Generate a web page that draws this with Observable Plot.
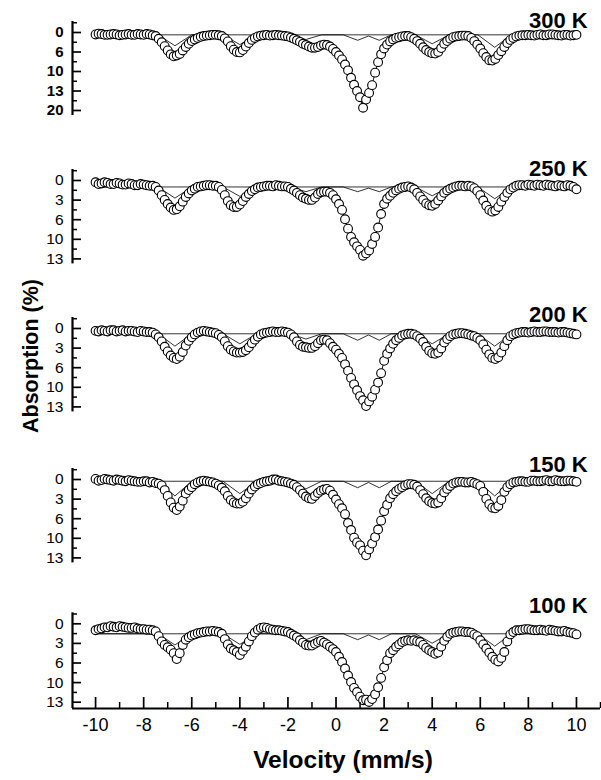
<!DOCTYPE html>
<html><head><meta charset="utf-8">
<script src="https://cdn.jsdelivr.net/npm/d3@7"></script>
<script src="https://cdn.jsdelivr.net/npm/@observablehq/plot@0.6"></script>
<style>
body{margin:0;background:#fff;}
#wrap{position:relative;width:601px;height:780px;overflow:hidden;font-family:"Liberation Sans",Arial,Helvetica,sans-serif;background:#fff;}
#wrap svg{position:absolute;left:0;top:0;}
</style></head><body><div id="wrap"></div>
<script>
// ---- data: channel velocities (mm/s) ----
const velocity = [-10,-9.75,-9.5,-9.25,-9,-8.75,-8.5,-8.25,-8,-7.75,-7.5,-7.25,-7,-6.75,-6.5,-6.25,-6,-5.75,-5.5,-5.25,-5,-4.75,-4.5,-4.25,-4,-3.75,-3.5,-3.25,-3,-2.75,-2.5,-2.25,-2,-1.75,-1.5,-1.25,-1,-0.75,-0.5,-0.25,0,0.25,0.5,0.75,1,1.25,1.5,1.75,2,2.25,2.5,2.75,3,3.25,3.5,3.75,4,4.25,4.5,4.75,5,5.25,5.5,5.75,6,6.25,6.5,6.75,7,7.25,7.5,7.75,8,8.25,8.5,8.75,9,9.25,9.5,9.75,10];
const velocityMid = [-9.875,-9.625,-9.375,-9.125,-8.875,-8.625,-8.375,-8.125,-7.875,-7.625,-7.375,-7.125,-6.875,-6.625,-6.375,-6.125,-5.875,-5.625,-5.375,-5.125,-4.875,-4.625,-4.375,-4.125,-3.875,-3.625,-3.375,-3.125,-2.875,-2.625,-2.375,-2.125,-1.875,-1.625,-1.375,-1.125,-0.875,-0.625,-0.375,-0.125,0.125,0.375,0.625,0.875,1.125,1.375,1.625,1.875,2.125,2.375,2.625,2.875,3.125,3.375,3.625,3.875,4.125,4.375,4.625,4.875,5.125,5.375,5.625,5.875,6.125,6.375,6.625,6.875,7.125,7.375,7.625,7.875,8.125,8.375,8.625,8.875,9.125,9.375,9.625,9.875];

// absorption (%)
const abs300 = [0.5,0.4,0.6,0.4,0.7,0.5,0.6,0.4,0.6,0.5, 0.9,2.5,4.6,6.1,5.5,3.7,2.2,1.4,0.9,0.7, 0.6,0.9,2.3,4.4,5.1,3.6,1.9,1.0,0.7,0.8, 0.6,0.8,1.0,1.6,2.4,3.2,3.9,3.7,3.1,3.6, 5.0,6.9,9.7,13.4,16.6,17.2,13.5,7.6,4.1,2.3, 1.4,1.0,0.9,1.6,2.9,4.5,5.3,5.0,2.9,1.6, 1.0,0.8,0.9,2.2,4.1,6.3,7.2,5.8,3.7,1.9, 1.0,0.7,0.6,0.8,0.5,0.7,0.5,0.7,0.6,0.8, 0.6];
const abs300Mid = [0.3,0.6,0.5,0.5,0.6,0.4,0.6,0.5,0.4,0.7, 1.6,3.5,5.6,5.9,4.6,2.9,1.8,1.1,0.8,0.6, 0.7,1.5,3.5,5.0,4.5,2.7,1.4,0.8,0.6,0.7, 0.7,0.9,1.3,2.0,2.9,3.6,3.9,3.3,3.2,4.2, 5.9,8.2,11.6,15.0,19.3,15.5,10.3,5.6,3.1,1.8, 1.2,0.9,1.2,2.2,3.8,5.0,5.4,4.0,2.2,1.2, 0.9,0.8,1.4,3.1,5.3,7.1,6.8,4.8,2.7,1.4, 0.8,0.7,0.7,0.6,0.7,0.5,0.6,0.8,0.6,0.7];
const abs250 = [0.3,0.5,0.4,0.6,0.5,0.7,0.6,0.8,0.7,0.9, 1.1,2.5,4.0,5.0,4.4,2.8,1.7,1.1,0.9,0.8, 0.9,1.6,3.5,4.5,4.1,2.8,1.8,1.2,1.0,0.9, 0.8,1.0,1.1,1.7,2.5,3.1,3.3,2.3,1.9,2.1, 3.2,5.0,8.2,10.5,11.8,12.4,10.8,8.0,4.0,2.6, 1.7,1.2,1.0,1.5,2.7,3.9,4.3,3.4,2.1,1.4, 1.0,0.9,0.9,1.3,2.5,4.3,5.3,4.5,2.8,1.5, 0.9,0.8,0.7,0.9,0.8,0.7,0.9,0.8,1.0,0.9, 1.5];
const abs250Mid = [0.6,0.3,0.6,0.4,0.7,0.5,0.8,0.6,0.8,0.9, 1.7,3.3,4.6,4.9,3.6,2.2,1.4,1.0,0.8,0.9, 1.1,2.5,4.2,4.5,3.5,2.3,1.5,1.1,0.9,1.0, 0.9,1.0,1.4,2.1,2.9,3.3,2.9,2.0,1.9,2.5, 4.0,6.6,9.6,11.2,12.8,11.9,9.6,5.7,3.1,2.1, 1.4,1.1,1.2,2.1,3.3,4.2,4.0,2.7,1.7,1.2, 0.9,1.0,1.0,1.8,3.4,5.0,5.1,3.6,2.1,1.2, 0.8,0.9,0.8,0.7,0.9,0.8,1.0,0.9,0.8,1.1];
const abs200 = [0.4,0.3,0.5,0.3,0.4,0.5,0.4,0.6,0.5,0.6, 1.0,2.2,3.9,5.0,4.8,2.9,1.5,0.7,0.4,0.6, 0.8,1.5,3.0,3.9,4.1,3.7,2.5,1.4,0.8,0.6, 0.6,0.5,0.7,1.5,2.8,3.2,3.3,2.5,1.9,2.5, 3.6,5.0,7.2,9.5,11.5,13.2,11.6,9.2,5.5,3.4, 2.0,1.2,0.9,1.0,1.7,3.1,4.2,4.1,2.4,1.3, 0.9,0.8,1.0,1.3,2.0,3.6,5.0,4.9,3.0,1.3, 0.8,0.6,0.7,0.5,0.6,0.5,0.6,0.7,0.6,0.8, 1.0];
const abs200Mid = [0.5,0.4,0.3,0.5,0.3,0.4,0.5,0.4,0.6,0.7, 1.5,3.1,4.6,5.2,4.0,2.1,1.0,0.5,0.5,0.7, 1.1,2.2,3.6,4.1,4.0,3.2,1.9,1.0,0.7,0.5, 0.6,0.6,1.0,2.2,3.1,3.3,3.0,2.0,2.0,3.1, 4.3,6.1,8.4,10.5,12.2,12.4,10.4,7.6,4.3,2.6, 1.6,1.0,0.9,1.3,2.3,3.8,4.3,3.4,1.8,1.0, 0.8,0.9,1.2,1.6,2.7,4.4,5.2,4.1,2.0,1.0, 0.7,0.6,0.6,0.6,0.5,0.6,0.6,0.6,0.7,0.9];
const abs150 = [-0.1,0.1,0.0,0.2,0.1,0.3,0.2,0.4,0.3,0.5, 0.6,1.0,2.8,4.8,4.6,2.4,1.3,0.5,0.2,0.4, 0.7,1.4,2.8,3.9,4.1,3.2,1.7,0.8,0.4,0.2, 0.0,0.3,0.5,0.9,1.8,2.9,3.3,2.3,1.7,1.9, 3.4,4.9,7.4,9.9,11.2,12.9,10.9,8.5,5.4,3.2, 2.0,1.3,0.8,0.9,1.8,3.2,4.0,3.9,2.2,1.1, 0.5,0.4,0.5,0.6,1.1,3.3,4.8,4.5,2.1,0.8, 0.4,0.3,0.4,0.2,0.3,0.1,0.3,0.2,0.3,0.2, 0.4];
const abs150Mid = [0.2,-0.1,0.1,0.0,0.2,0.1,0.3,0.4,0.3,0.4, 0.7,1.8,3.9,5.2,3.6,1.8,0.8,0.3,0.3,0.5, 1.0,2.0,3.5,4.1,3.8,2.4,1.2,0.6,0.3,0.0, 0.2,0.4,0.7,1.3,2.4,3.2,2.8,1.9,1.6,2.6, 4.2,5.9,8.6,10.7,12.1,11.9,9.8,7.0,4.3,2.5, 1.6,1.0,0.8,1.2,2.5,3.7,4.1,3.2,1.6,0.7, 0.4,0.5,0.4,0.8,2.1,4.2,4.9,3.5,1.3,0.5, 0.3,0.4,0.2,0.3,0.2,0.3,0.1,0.3,0.2,0.3];
const abs100 = [1.1,0.8,0.6,0.5,0.4,0.6,0.7,0.8,0.9,1.0, 1.3,3.0,4.0,5.0,5.0,2.7,2.0,1.6,1.4,1.3, 1.3,1.7,3.5,4.5,5.3,3.9,2.1,1.0,0.6,0.9, 1.1,1.2,1.4,2.0,2.8,3.6,3.7,3.1,3.2,3.9, 4.8,6.5,8.8,10.9,12.4,12.9,12.8,10.8,7.4,5.0, 3.9,3.1,2.8,2.8,3.1,4.1,4.8,4.9,2.9,1.7, 1.4,1.3,1.4,1.8,2.8,4.2,5.6,6.4,4.8,1.8, 1.1,1.0,0.9,1.1,1.0,1.2,1.1,1.3,1.2,1.5, 1.8];
const abs100Mid = [0.9,0.6,0.4,0.6,0.5,0.7,0.6,0.9,1.0,1.1, 2.1,3.6,4.4,6.0,3.6,2.3,1.8,1.5,1.3,1.2, 1.4,2.6,4.2,4.8,4.6,3.0,1.5,0.7,0.7,1.0, 1.1,1.3,1.7,2.3,3.2,3.7,3.4,2.9,3.5,4.3, 5.6,7.6,9.9,11.6,13.0,13.3,12.0,9.2,6.2,4.5, 3.5,2.9,2.9,3.0,3.6,4.5,5.1,3.9,2.2,1.5, 1.3,1.4,1.5,2.1,3.5,4.9,6.1,5.8,3.0,1.4, 1.1,0.9,1.0,1.1,1.1,1.0,1.2,1.3,1.4,1.6];

// fitted sub-spectra (magnetic sextet and central doublet)
const sextetV = [-10,-7.4,-6.7,-6.0,-4.7,-4.0,-3.3,-1.9,-1.25,-0.6,3.3,4.0,4.7,5.9,6.6,7.3,10];
const sextet300 = [0.6,0.6,3.4,0.6,0.6,3.1,0.6,0.6,1.8,0.6,0.6,2.9,0.6,0.6,3.8,0.6,0.6];
const sextet250 = [1.1,1.1,3.0,1.1,1.1,2.7,1.1,1.1,1.9,1.1,1.1,2.6,1.1,1.1,3.1,1.1,1.1];
const sextet200 = [0.9,0.9,3.0,0.9,0.9,2.6,0.9,0.9,1.8,0.9,0.9,2.6,0.9,0.9,3.0,0.9,0.9];
const sextet150 = [0.3,0.3,2.8,0.3,0.3,2.4,0.3,0.3,1.6,0.3,0.3,2.4,0.3,0.3,2.8,0.3,0.3];
const sextet100 = [1.7,1.7,3.6,1.7,1.7,3.5,1.7,1.7,2.7,1.7,1.7,3.3,1.7,1.7,3.8,1.7,1.7];
const doubletV = [-10,0.3,0.9,1.35,1.8,2.3,10];
const doublet300 = [0.6,0.6,2.0,0.9,2.0,0.6,0.6];
const doublet250 = [1.1,1.1,1.9,1.3,1.9,1.1,1.1];
const doublet200 = [0.9,0.9,2.0,1.1,2.0,0.9,0.9];
const doublet150 = [0.3,0.3,1.4,0.5,1.4,0.3,0.3];
const doublet100 = [1.7,1.7,2.7,1.9,2.7,1.7,1.7];

const panelTitles = ["300 K","250 K","200 K","150 K","100 K"];
const yTicks300 = [0,5,10,15,20];
const yLabels300 = ["0","6","10","13","20"];
const yTicks = [0,10/3,20/3,10,40/3];
const yLabels = ["0","3","6","10","13"];
const xMajorTicks = [-10,-8,-6,-4,-2,0,2,4,6,8,10];
const xMinorTicks = [-9,-7,-5,-3,-1,1,3,5,7,9,11];

// ---- layout ----
const W = 601, H = 780, ML = 72, MR = 1, MB = 72;
const FW = W - ML - MR;
const X0 = -10.96, X1 = 11;
const xAxisPx = 708;
const FONT = '"Liberation Sans", Arial, Helvetica, sans-serif';

const panels = [
  {title: panelTitles[0], data: abs300, mid: abs300Mid, sext: sextet300, dub: doublet300, ticks: yTicks300, labels: yLabels300, zero: 32, step: 19.5, base: 27, bold: true},
  {title: panelTitles[1], data: abs250, mid: abs250Mid, sext: sextet250, dub: doublet250, ticks: yTicks, labels: yLabels, zero: 180, step: 19.6, base: 175, bold: false},
  {title: panelTitles[2], data: abs200, mid: abs200Mid, sext: sextet200, dub: doublet200, ticks: yTicks, labels: yLabels, zero: 328, step: 19.6, base: 321, bold: false},
  {title: panelTitles[3], data: abs150, mid: abs150Mid, sext: sextet150, dub: doublet150, ticks: yTicks, labels: yLabels, zero: 479, step: 19.6, base: 471, bold: false},
  {title: panelTitles[4], data: abs100, mid: abs100Mid, sext: sextet100, dub: doublet100, ticks: yTicks, labels: yLabels, zero: 623.3, step: 19.6, base: 612, bold: false}
];

const wrap = document.getElementById("wrap");

panels.forEach((p, i) => {
  const last = i === panels.length - 1;
  const tstep = p.ticks[1] - p.ticks[0];
  const tmax = p.ticks[p.ticks.length - 1];
  const unitPx = p.step / tstep;
  const minor = [-tstep / 2, ...p.ticks.slice(0, -1).map(t => t + tstep / 2)];
  const axTop = -11 / unitPx;
  const axBot = last ? (xAxisPx - p.zero) / unitPx : tmax + 5 / unitPx;
  const rows = velocity.map((v, j) => ({v, a: p.data[j]}))
    .concat(velocityMid.map((v, j) => ({v, a: p.mid[j]})))
    .sort((a, b) => a.v - b.v);
  const sRows = sextetV.map((v, j) => ({v, a: p.sext[j]}));
  const dRows = doubletV.map((v, j) => ({v, a: p.dub[j]}));

  const marks = [
    Plot.line(sRows, {x: "v", y: "a", stroke: "black", strokeWidth: 0.8}),
    Plot.line(dRows, {x: "v", y: "a", stroke: "black", strokeWidth: 0.8}),
    Plot.line(rows, {x: "v", y: "a", stroke: "black", strokeWidth: 0.9}),
    Plot.dot(rows, {x: "v", y: "a", r: 4.4, fill: "white", stroke: "black", strokeWidth: 1.1}),
    Plot.ruleX([X0], {y1: axTop, y2: axBot, stroke: "black", strokeWidth: 2.2}),
    Plot.ruleY(p.ticks, {y: d => d, insetRight: FW - 9, stroke: "black", strokeWidth: 1.7}),
    Plot.ruleY(minor, {y: d => d, insetRight: FW - 5, stroke: "black", strokeWidth: 1.5}),
    Plot.axisY({ticks: p.ticks, tickSize: 0, tickPadding: 9, label: null,
      tickFormat: d => p.labels[p.ticks.indexOf(d)],
      fontSize: p.bold ? 15 : 15.5, fontWeight: p.bold ? "bold" : "normal", fill: "black"}),
    Plot.text([p.title], {x: 10.47, y: (p.base - 7 - p.zero) / unitPx, text: d => d,
      textAnchor: "end", fontSize: 22, fontWeight: "bold", fill: "black"})
  ];
  if (last) {
    const yAx = (xAxisPx - p.zero) / unitPx;
    marks.push(
      Plot.ruleY([yAx], {x1: X0, x2: X1, stroke: "black", strokeWidth: 2.2}),
      Plot.ruleX(xMajorTicks, {x: d => d, insetTop: xAxisPx - 11, stroke: "black", strokeWidth: 1.7}),
      Plot.ruleX(xMinorTicks, {x: d => d, insetTop: xAxisPx - 6, stroke: "black", strokeWidth: 1.5}),
      Plot.axisX({ticks: xMajorTicks, tickSize: 0, tickPadding: 10, label: null,
        tickFormat: d => String(d), fontSize: 18, fill: "black"})
    );
  }
  const svg = Plot.plot({
    width: W, height: H,
    marginLeft: ML, marginRight: MR, marginTop: 0, marginBottom: MB,
    x: {domain: [X0, X1], axis: null},
    y: {domain: [0, tmax], range: [p.zero, p.zero + (p.ticks.length - 1) * p.step], axis: null},
    style: {background: "transparent", fontFamily: FONT, color: "black"},
    marks
  });
  wrap.appendChild(svg);
});

// axis titles
const ns = "http://www.w3.org/2000/svg";
const ov = document.createElementNS(ns, "svg");
ov.setAttribute("width", W); ov.setAttribute("height", H);
ov.style.fontFamily = FONT;
const t1 = document.createElementNS(ns, "text");
t1.setAttribute("transform", "translate(38,356) rotate(-90)");
t1.setAttribute("text-anchor", "middle");
t1.setAttribute("font-size", "21.5");
t1.setAttribute("font-weight", "bold");
t1.textContent = "Absorption (%)";
const t2 = document.createElementNS(ns, "text");
t2.setAttribute("x", 343); t2.setAttribute("y", 768);
t2.setAttribute("text-anchor", "middle");
t2.setAttribute("font-size", "24.5");
t2.setAttribute("font-weight", "bold");
t2.textContent = "Velocity (mm/s)";
ov.appendChild(t1); ov.appendChild(t2);
wrap.appendChild(ov);
</script></body></html>
